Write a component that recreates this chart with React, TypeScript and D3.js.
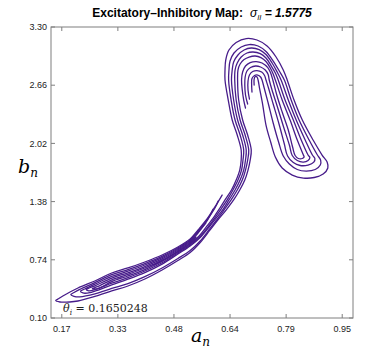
import React from "react";
import * as d3 from "d3";

type P = [number, number];

// axis ticks
const xTicks = [0.17, 0.326, 0.482, 0.638, 0.794, 0.95];
const xTickLabels = ["0.17", "0.33", "0.48", "0.64", "0.79", "0.95"];
const yTicks = [0.1, 0.74, 1.38, 2.02, 2.66, 3.3];
const yTickLabels = ["0.10", "0.74", "1.38", "2.02", "2.66", "3.30"];
const xDomain: P = [0.14, 0.98];
const yDomain: P = [0.1, 3.3];

// traced strands of the attractor (a_n, b_n)
const strand1: P[] = [
  [0.543, 0.991], [0.527, 0.925], [0.493, 0.837], [0.449, 0.736], [0.401, 0.65], [0.354, 0.58],
  [0.309, 0.52], [0.276, 0.457], [0.262, 0.434], [0.255, 0.423], [0.262, 0.417], [0.276, 0.432],
  [0.309, 0.501], [0.354, 0.562], [0.401, 0.633], [0.449, 0.721], [0.493, 0.826], [0.527, 0.914],
  [0.552, 1.002], [0.574, 1.112], [0.594, 1.216], [0.609, 1.304], [0.624, 1.398], [0.642, 1.507],
  [0.655, 1.617], [0.665, 1.727], [0.669, 1.837], [0.669, 1.947], [0.658, 2.112], [0.644, 2.277],
  [0.633, 2.497], [0.624, 2.717], [0.624, 2.827], [0.626, 2.937], [0.635, 3.047], [0.655, 3.129],
  [0.683, 3.173], [0.713, 3.157], [0.741, 3.091], [0.766, 2.97], [0.786, 2.827], [0.797, 2.717],
  [0.816, 2.497], [0.839, 2.277], [0.869, 2.057], [0.894, 1.892], [0.908, 1.815], [0.91, 1.749],
  [0.897, 1.683], [0.872, 1.645], [0.842, 1.639], [0.811, 1.672], [0.783, 1.749], [0.764, 1.87],
  [0.751, 2.035], [0.738, 2.222], [0.729, 2.442], [0.72, 2.629], [0.716, 2.717], [0.713, 2.75],
  [0.708, 2.755], [0.705, 2.728], [0.705, 2.662],
];
const strand2: P[] = [
  [0.571, 1.145], [0.549, 1.035], [0.527, 0.936], [0.493, 0.848], [0.449, 0.75], [0.401, 0.666],
  [0.354, 0.597], [0.309, 0.539], [0.262, 0.454], [0.245, 0.427], [0.238, 0.413], [0.245, 0.399],
  [0.262, 0.412], [0.309, 0.483], [0.354, 0.544], [0.401, 0.617], [0.449, 0.707], [0.493, 0.815],
  [0.527, 0.903], [0.555, 0.997], [0.58, 1.117], [0.599, 1.221], [0.614, 1.304], [0.63, 1.398],
  [0.646, 1.507], [0.66, 1.617], [0.67, 1.727], [0.674, 1.837], [0.676, 1.947], [0.666, 2.112],
  [0.652, 2.277], [0.641, 2.497], [0.634, 2.717], [0.635, 2.827], [0.638, 2.926], [0.649, 3.014],
  [0.669, 3.08], [0.691, 3.107], [0.716, 3.091], [0.738, 3.03], [0.758, 2.926], [0.775, 2.816],
  [0.789, 2.717], [0.808, 2.497], [0.83, 2.277], [0.858, 2.057], [0.881, 1.892], [0.89, 1.837],
  [0.889, 1.782], [0.875, 1.733], [0.85, 1.716], [0.825, 1.733], [0.803, 1.793], [0.786, 1.881],
  [0.773, 2.035], [0.758, 2.244], [0.744, 2.464], [0.733, 2.629], [0.727, 2.717], [0.723, 2.75],
  [0.715, 2.772], [0.706, 2.767], [0.699, 2.733], [0.698, 2.673], [0.699, 2.585],
];
const strand3: P[] = [
  [0.591, 1.298], [0.574, 1.167], [0.549, 1.046], [0.527, 0.947], [0.493, 0.859], [0.449, 0.764],
  [0.401, 0.683], [0.354, 0.615], [0.309, 0.557], [0.262, 0.472], [0.234, 0.419], [0.222, 0.397],
  [0.229, 0.375], [0.248, 0.378], [0.262, 0.395], [0.309, 0.464], [0.354, 0.527], [0.401, 0.6],
  [0.449, 0.693], [0.493, 0.804], [0.527, 0.892], [0.555, 0.986], [0.582, 1.112], [0.602, 1.211],
  [0.619, 1.298], [0.635, 1.398], [0.652, 1.507], [0.666, 1.617], [0.676, 1.727], [0.681, 1.837],
  [0.683, 1.947], [0.673, 2.112], [0.659, 2.277], [0.648, 2.497], [0.642, 2.717], [0.644, 2.827],
  [0.648, 2.915], [0.66, 2.992], [0.677, 3.047], [0.697, 3.069], [0.719, 3.052], [0.738, 2.997],
  [0.755, 2.904], [0.769, 2.805], [0.78, 2.717], [0.8, 2.497], [0.822, 2.277], [0.847, 2.057],
  [0.867, 1.892], [0.874, 1.854], [0.871, 1.815], [0.855, 1.782], [0.833, 1.777], [0.814, 1.809],
  [0.798, 1.881], [0.789, 2.013], [0.775, 2.222], [0.758, 2.453], [0.745, 2.629], [0.738, 2.717],
  [0.734, 2.767], [0.726, 2.805], [0.713, 2.821], [0.701, 2.81], [0.692, 2.772], [0.688, 2.706],
  [0.688, 2.607], [0.692, 2.508],
];
const strand4: P[] = [
  [0.605, 1.387], [0.596, 1.309], [0.574, 1.178], [0.549, 1.057], [0.527, 0.958], [0.493, 0.87],
  [0.449, 0.778], [0.401, 0.699], [0.354, 0.632], [0.309, 0.576], [0.262, 0.489], [0.22, 0.415],
  [0.204, 0.38], [0.195, 0.358], [0.204, 0.339], [0.22, 0.333], [0.262, 0.365], [0.309, 0.425],
  [0.354, 0.478], [0.401, 0.554], [0.449, 0.65], [0.493, 0.754], [0.527, 0.842], [0.555, 0.947],
  [0.582, 1.083], [0.605, 1.2], [0.621, 1.287], [0.641, 1.398], [0.658, 1.507], [0.672, 1.617],
  [0.681, 1.727], [0.687, 1.837], [0.69, 1.947], [0.68, 2.112], [0.666, 2.277], [0.655, 2.497],
  [0.651, 2.717], [0.652, 2.827], [0.658, 2.904], [0.669, 2.97], [0.685, 3.014], [0.702, 3.025],
  [0.722, 3.008], [0.738, 2.959], [0.752, 2.876], [0.764, 2.794], [0.772, 2.717], [0.791, 2.497],
  [0.814, 2.277], [0.836, 2.057], [0.855, 1.892], [0.86, 1.865], [0.855, 1.832], [0.842, 1.815],
  [0.825, 1.832], [0.811, 1.887], [0.803, 2.002], [0.787, 2.2], [0.769, 2.431], [0.754, 2.618],
  [0.747, 2.717], [0.744, 2.777], [0.736, 2.827], [0.723, 2.86], [0.709, 2.871], [0.695, 2.854],
  [0.685, 2.816], [0.68, 2.75], [0.679, 2.662], [0.681, 2.552], [0.687, 2.453],
];
const strand5: P[] = [
  [0.616, 1.452], [0.596, 1.321], [0.574, 1.189], [0.549, 1.068], [0.527, 0.969], [0.493, 0.881],
  [0.449, 0.793], [0.401, 0.716], [0.354, 0.65], [0.309, 0.595], [0.262, 0.507], [0.215, 0.43],
  [0.178, 0.353], [0.162, 0.314], [0.153, 0.292], [0.165, 0.276], [0.192, 0.276], [0.215, 0.287],
  [0.262, 0.337], [0.309, 0.397], [0.354, 0.452], [0.401, 0.529], [0.449, 0.628], [0.493, 0.732],
  [0.527, 0.82], [0.555, 0.93], [0.582, 1.066], [0.605, 1.183], [0.627, 1.287], [0.648, 1.398],
  [0.665, 1.507], [0.679, 1.617], [0.688, 1.727], [0.694, 1.837], [0.697, 1.947], [0.687, 2.112],
  [0.673, 2.277], [0.662, 2.497], [0.659, 2.717], [0.66, 2.827], [0.666, 2.893], [0.677, 2.942],
  [0.691, 2.97], [0.708, 2.981], [0.724, 2.964], [0.738, 2.92], [0.75, 2.849], [0.758, 2.783],
  [0.764, 2.717], [0.783, 2.497], [0.805, 2.277], [0.825, 2.057], [0.842, 1.892], [0.844, 1.87],
  [0.839, 1.854], [0.828, 1.854], [0.819, 1.887], [0.812, 1.98], [0.8, 2.167], [0.783, 2.365],
  [0.768, 2.552], [0.757, 2.717], [0.751, 2.794], [0.743, 2.854], [0.727, 2.904], [0.711, 2.92],
  [0.694, 2.909], [0.681, 2.871], [0.673, 2.805], [0.67, 2.717], [0.672, 2.607], [0.676, 2.497],
  [0.681, 2.409],
];
const strands = [strand1, strand2, strand3, strand4, strand5];

const W = 390;
const H = 361;
const M = { left: 51, right: 353, top: 27, bottom: 318 };
const axisColor = "#7f7f7f";
const textColor = "#222";
const lineColor = "#471c8a";

export default function App() {
  const x = d3.scaleLinear().domain(xDomain).range([M.left, M.right]);
  const y = d3.scaleLinear().domain(yDomain).range([M.bottom, M.top]);
  const line = d3
    .line<P>()
    .x((d) => x(d[0]))
    .y((d) => y(d[1]))
    .curve(d3.curveCatmullRom.alpha(0.5));
  const tk = 4;
  const sans = "'Liberation Sans', Arial, Helvetica, sans-serif";
  const serif = "'DejaVu Serif', 'Liberation Serif', serif";
  return (
    <svg
      width={W}
      height={H}
      viewBox={`0 0 ${W} ${H}`}
      style={{ position: "absolute", left: 0, top: 0, display: "block", background: "#fff" }}
    >
      <rect x={0} y={0} width={W} height={H} fill="#fff" />
      {/* attractor */}
      <g fill="none" stroke={lineColor} strokeWidth={1.3} strokeLinejoin="round" strokeLinecap="round">
        {strands.map((s, i) => (
          <path key={i} d={line(s) || ""} />
        ))}
      </g>
      {/* frame */}
      <rect
        x={M.left}
        y={M.top}
        width={M.right - M.left}
        height={M.bottom - M.top}
        fill="none"
        stroke={axisColor}
        strokeWidth={1}
      />
      {xTicks.map((t, i) => (
        <g key={"xt" + i}>
          <line x1={x(t)} x2={x(t)} y1={M.bottom} y2={M.bottom - tk} stroke={axisColor} />
          <line x1={x(t)} x2={x(t)} y1={M.top} y2={M.top + tk} stroke={axisColor} />
          <text
            x={x(t)}
            y={332}
            textAnchor="middle"
            fontFamily={sans}
            fontSize={9}
            fill={textColor}
          >
            {xTickLabels[i]}
          </text>
        </g>
      ))}
      {yTicks.map((t, i) => (
        <g key={"yt" + i}>
          <line x1={M.left} x2={M.left + tk} y1={y(t)} y2={y(t)} stroke={axisColor} />
          <line x1={M.right} x2={M.right - tk} y1={y(t)} y2={y(t)} stroke={axisColor} />
          <text
            x={47}
            y={y(t) + 3.2}
            textAnchor="end"
            fontFamily={sans}
            fontSize={9}
            fill={textColor}
          >
            {yTickLabels[i]}
          </text>
        </g>
      ))}
      {/* title */}
      <text x={202} y={17} textAnchor="middle" fontFamily={sans} fontSize={12} fill="#000">
        <tspan fontWeight="bold">Excitatory–Inhibitory Map:</tspan>
        <tspan dx={7} fontStyle="italic">σ</tspan>
        <tspan fontStyle="italic" fontSize={7.5} dy={3}>II</tspan>
        <tspan dy={-3} fontWeight="bold" fontStyle="italic"> = 1.5775</tspan>
      </text>
      {/* axis labels */}
      <text x={191} y={342} fontFamily={serif} fontStyle="italic" fontSize={19} fill="#000">
        a<tspan fontSize={12} dy={4}>n</tspan>
      </text>
      <text x={18} y={173} fontFamily={serif} fontStyle="italic" fontSize={19} fill="#000">
        b<tspan fontSize={12} dy={4}>n</tspan>
      </text>
      {/* annotation */}
      <text x={63} y={312} fontFamily={serif} fontSize={11} fill="#222">
        <tspan fontStyle="italic">θ</tspan>
        <tspan fontStyle="italic" fontSize={7.5} dy={3}>i</tspan>
        <tspan dy={-3}> = 0.1650248</tspan>
      </text>
    </svg>
  );
}
